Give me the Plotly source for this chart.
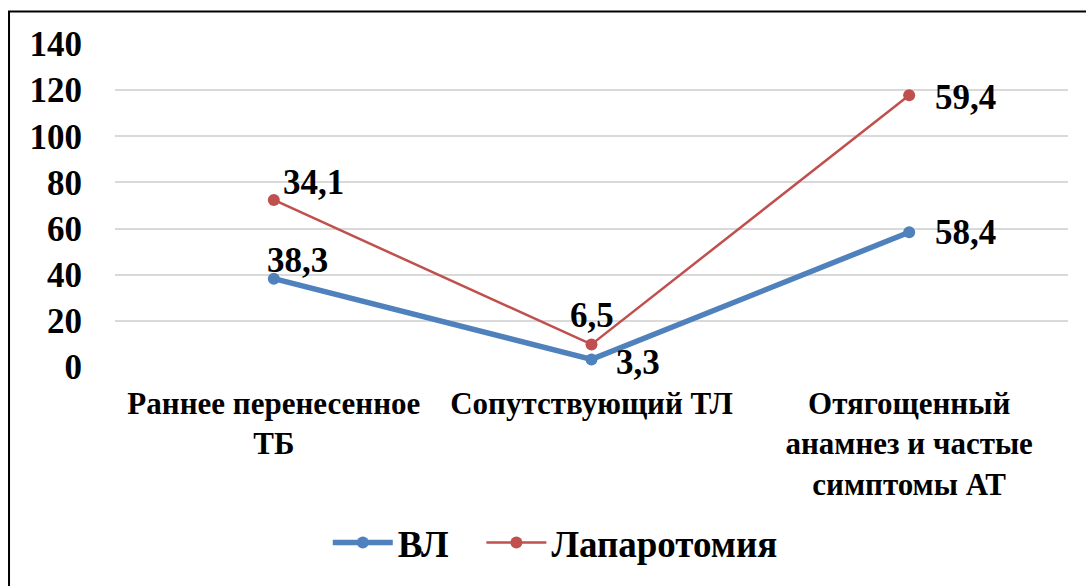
import plotly.graph_objects as go

categories = ["Раннее перенесенное<br>ТБ", "Сопутствующий ТЛ", "Отягощенный<br>анамнез и частые<br>симптомы АТ"]
vl_values = [38.3, 3.3, 58.4]
lap_values = [34.1, 6.5, 59.4]
y_ticks = [0, 20, 40, 60, 80, 100, 120, 140]

# stacked line chart: second series stacked on the first
lap_cum = [a + b for a, b in zip(vl_values, lap_values)]

BLUE = "#4F81BD"
RED = "#C0504D"
FONT = "Liberation Serif"

fig = go.Figure()
fig.add_trace(go.Scatter(x=categories, y=vl_values, mode="lines+markers", name="ВЛ",
                         line=dict(color=BLUE, width=5.5), marker=dict(size=12, color=BLUE)))
fig.add_trace(go.Scatter(x=categories, y=lap_cum, mode="lines+markers", name="Лапаротомия",
                         line=dict(color=RED, width=2.5), marker=dict(size=12, color=RED)))

def fmt(v):
    return f"{v:.1f}".replace(".", ",")

def b(s):
    return "<b>" + s + "</b>"

# label offsets (px) per point, mimicking Excel placement
vl_offsets = [(24, 18), (46, -3), (56, 0)]
lap_offsets = [(40, 17), (0, 29), (56, -2)]
for i, c in enumerate(categories):
    dx, dy = vl_offsets[i]
    fig.add_annotation(x=c, y=vl_values[i], text=b(fmt(vl_values[i])), showarrow=False,
                       xshift=dx, yshift=dy, font=dict(family=FONT, size=35, color="black"))
    dx, dy = lap_offsets[i]
    fig.add_annotation(x=c, y=lap_cum[i], text=b(fmt(lap_values[i])), showarrow=False,
                       xshift=dx, yshift=dy, font=dict(family=FONT, size=35, color="black"))

# chart frame
fig.add_shape(type="rect", xref="paper", yref="paper", x0=-0.1112, x1=1.2, y0=-1.0, y1=1.101,
              line=dict(color="black", width=2), layer="below")

fig.update_layout(
    width=1086, height=586,
    margin=dict(l=115, r=18, t=44, b=216),
    paper_bgcolor="white", plot_bgcolor="white",
    font=dict(family=FONT, color="black"),
    showlegend=True,
    legend=dict(orientation="h", x=0.462, xanchor="center", y=-0.545, yanchor="middle",
                font=dict(family=FONT, size=37, color="black"), itemwidth=60,
                traceorder="normal"),
    xaxis=dict(range=[-0.5, 2.5], showgrid=False, showline=False, zeroline=False, ticks="",
               tickmode="array", tickvals=categories,
               ticktext=[b(c.replace("<br>", "</b><br><b>")) for c in categories],
               tickfont=dict(family=FONT, size=31, color="black"),
               ticklabelstandoff=15),
    yaxis=dict(range=[0, 140], tickvals=y_ticks, ticktext=[b(str(t)) for t in y_ticks],
               showgrid=True, gridcolor="#D9D9D9", gridwidth=1.5,
               zeroline=False, showline=False, ticks="",
               tickfont=dict(family=FONT, size=35, color="black"),
               ticklabelstandoff=32),
)
fig.data[0].name = b("ВЛ") + "&nbsp;&nbsp;&nbsp;"
fig.data[1].name = b("Лапаротомия")

fig.write_html("out.html")
